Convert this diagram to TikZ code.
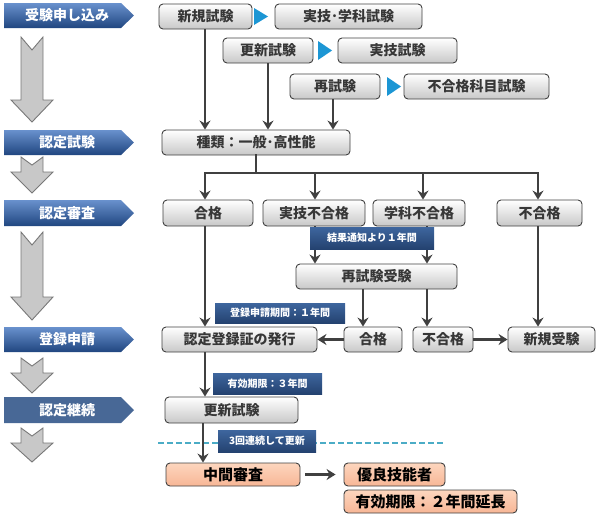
\documentclass[tikz,border=0pt]{standalone}
\usepackage{fontspec}
\setmainfont{Noto Sans CJK JP}
\usetikzlibrary{arrows.meta}
\definecolor{boxline}{RGB}{64,64,64}
\definecolor{boxtext}{RGB}{55,55,55}
\definecolor{boxbot}{RGB}{200,200,200}
\definecolor{otop}{RGB}{253,214,190}
\definecolor{obot}{RGB}{247,182,150}
\definecolor{tagtop}{RGB}{62,102,158}
\definecolor{tagbot}{RGB}{36,66,112}
\definecolor{sttop}{RGB}{105,145,205}
\definecolor{stbot}{RGB}{32,70,128}
\definecolor{stflat}{RGB}{72,104,150}
\definecolor{tricol}{RGB}{28,150,212}
\definecolor{dashcol}{RGB}{75,172,198}
\definecolor{arrfill}{RGB}{200,200,200}
\definecolor{arrline}{RGB}{120,120,120}
\tikzset{
  gbox/.style={draw=boxline, line width=0.9pt, rounded corners=4pt, top color=white,
    bottom color=boxbot, text=boxtext, font=\fontsize{14}{16}\selectfont\bfseries,
    inner sep=0pt, minimum height=25pt},
  obox/.style={gbox, top color=otop, bottom color=obot, text=black,
    font=\fontsize{15}{17}\selectfont\bfseries, minimum height=23pt},
  tag/.style={top color=tagtop, bottom color=tagbot, text=white,
    font=\fontsize{10}{12}\selectfont\bfseries, inner sep=0pt},
  stage/.style={top color=sttop, bottom color=stbot},
  stagetext/.style={text=white, font=\fontsize{14}{16}\selectfont\bfseries, inner sep=0pt},
  downarr/.style={draw=arrline, line width=0.9pt, fill=arrfill, line join=miter},
  tri/.style={fill=tricol},
  line/.style={draw=boxline, line width=2.2pt, line cap=rect},
  conn/.style={draw=boxline, line width=2.2pt, -{Stealth[length=9pt,width=11pt,inset=3pt]}},
  dashline/.style={draw=dashcol, line width=1.6pt, dash pattern=on 6pt off 3pt},
}
\newcommand\blockarr[4]{\draw[downarr] (21,#1) -- (32,#2) -- (43,#1) -- (43,#3) -- (53,#3) -- (32,#4) -- (11,#3) -- (21,#3) -- cycle;}
\newcommand\stageshape[2]{\path[stage] (4,#1) -- (121,#1) -- (134,{(#1+#2)/2}) -- (121,#2) -- (4,#2) -- cycle;}
\begin{document}
\begin{tikzpicture}[x=1pt,y=-1pt]
\useasboundingbox (0,0) rectangle (599,525);
% left stage labels
\stageshape{3}{28}
\node[stagetext] (s1) at (67,15.5) {受験申し込み};
\stageshape{130}{155}
\node[stagetext] (s2) at (67,142.5) {認定試験};
\stageshape{200}{226}
\node[stagetext] (s3) at (67,213) {認定審査};
\stageshape{327}{352}
\node[stagetext] (s4) at (67,339.5) {登録申請};
\path[fill=stflat] (4,397) -- (121,397) -- (134,410) -- (121,423) -- (4,423) -- cycle;
\node[stagetext] (s5) at (67,410) {認定継続};
% left block arrows
\blockarr{37}{50}{100}{122}
\blockarr{157}{165}{172}{193}
\blockarr{232}{245}{297}{320}
\blockarr{358}{366}{373}{393}
\blockarr{428}{436}{443}{462}
% boxes
\node[gbox, minimum width=93pt] (shinki) at (205.5,16.5) {新規試験};
\node[gbox, minimum width=147pt] (jg) at (348.5,16.5) {実技･学科試験};
\node[gbox, minimum width=90pt] (koushin) at (268,50.5) {更新試験};
\node[gbox, minimum width=119pt] (jitsugi) at (397.5,50.5) {実技試験};
\node[gbox, minimum width=90pt] (saishi) at (335,86.5) {再試験};
\node[gbox, minimum width=145pt] (kamoku) at (476.5,86.5) {不合格科目試験};
\node[gbox, minimum width=188pt] (kind) at (256,142.5) {種類：一般･高性能};
\node[gbox, minimum width=90pt, minimum height=26pt] (pass) at (208,213) {合格};
\node[gbox, minimum width=102pt, minimum height=26pt] (fail1) at (314,213) {実技不合格};
\node[gbox, minimum width=92pt, minimum height=26pt] (fail2) at (419,213) {学科不合格};
\node[gbox, minimum width=85pt, minimum height=26pt] (fail3) at (539.5,213) {不合格};
\node[gbox, minimum width=161pt] (retake) at (376.5,276.5) {再試験受験};
\node[gbox, minimum width=155pt] (cert) at (239.5,339.5) {認定登録証の発行};
\node[gbox, minimum width=58pt] (pass2) at (373,339.5) {合格};
\node[gbox, minimum width=60pt] (fail4) at (443,339.5) {不合格};
\node[gbox, minimum width=87pt] (newexam) at (551.5,339.5) {新規受験};
\node[gbox, minimum width=133pt, minimum height=26pt] (upd) at (231.5,410) {更新試験};
\node[obox, minimum width=134pt] (mid) at (233,474.5) {中間審査};
\node[obox, minimum width=101pt] (excel) at (394.5,474.5) {優良技能者};
\node[obox, minimum width=173pt] (ext) at (430.5,501.5) {有効期限：２年間延長};
% triangles
\fill[tri] (254,8) -- (268,16.5) -- (254,25) -- cycle;
\fill[tri] (318,41) -- (332,50.5) -- (318,60) -- cycle;
\fill[tri] (387,77) -- (401,86.5) -- (387,96) -- cycle;
% x positions of connectors
\coordinate (x205) at (205,0);
\coordinate (x315) at (315,0);
\coordinate (x333) at (333,0);
\coordinate (x363) at (363,0);
\coordinate (x423) at (423,0);
\coordinate (x427) at (427,0);
\coordinate (x538) at (538,0);
\coordinate (x203) at (203,0);
\coordinate (bus) at (0,173);
% connectors
\draw[conn] (shinki.south -| x205) -- (kind.north -| x205);
\draw[conn] (koushin.south) -- (koushin.south |- kind.north);
\draw[conn] (saishi.south -| x333) -- (kind.north -| x333);
\draw[line] (kind.south) -- (kind.south |- bus);
\draw[line] (bus -| x205) -- (bus -| x538);
\draw[conn] (bus -| x205) -- (pass.north -| x205);
\draw[conn] (bus -| x315) -- (fail1.north -| x315);
\draw[conn] (bus -| x423) -- (fail2.north -| x423);
\draw[conn] (bus -| x538) -- (fail3.north -| x538);
\draw[conn] (fail1.south -| x315) -- (retake.north -| x315);
\draw[conn] (fail2.south -| x427) -- (retake.north -| x427);
\draw[conn] (retake.south -| x363) -- (pass2.north -| x363);
\draw[conn] (retake.south -| x427) -- (fail4.north -| x427);
\draw[conn] (fail3.south -| x538) -- (newexam.north -| x538);
\draw[conn] (pass.south -| x205) -- (cert.north -| x205);
\draw[conn] (pass2.west) -- (cert.east);
\draw[conn] (fail4.east) -- (newexam.west);
\draw[conn] (cert.south -| x205) -- (upd.north -| x205);
\draw[dashline] (158,443) -- (443,443);
\draw[conn] (upd.south -| x203) -- (mid.north -| x203);
\draw[conn, shorten <=5pt, shorten >=8pt] (mid.east) -- (excel.west);
% tags
\node[tag, minimum width=124pt, minimum height=22pt] (t1) at (372,238) {結果通知より１年間};
\node[tag, minimum width=130pt, minimum height=20pt] (t2) at (280,313) {登録申請期間：１年間};
\node[tag, minimum width=109pt, minimum height=21pt] (t3) at (267.5,383.5) {有効期限：３年間};
\node[tag, minimum width=98pt, minimum height=22pt] (t4) at (267,441) {3回連続して更新};
\end{tikzpicture}
\end{document}
